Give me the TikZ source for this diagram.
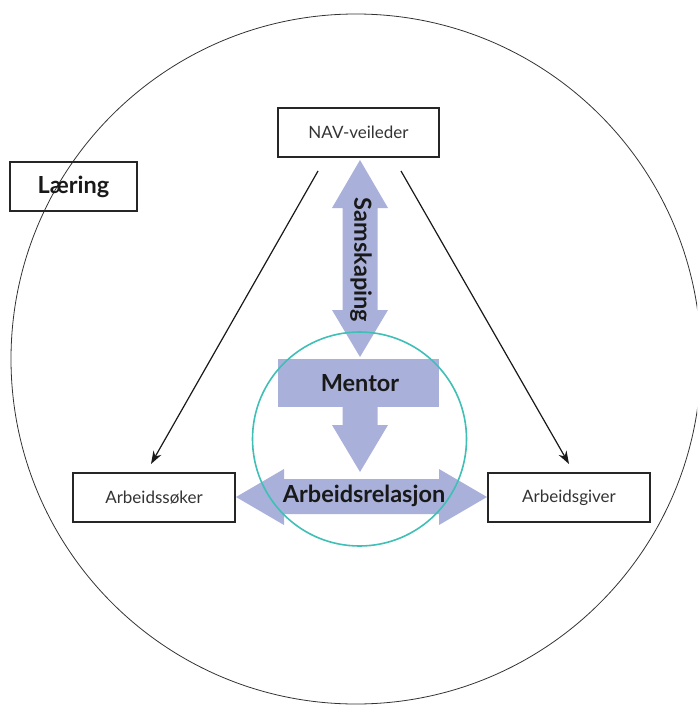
\documentclass[tikz,border=0pt]{standalone}
\usepackage{fontspec}
\setmainfont{Lato}
\usetikzlibrary{arrows.meta}
\definecolor{arrowfill}{HTML}{A9B1DB}
\definecolor{teal2}{HTML}{3FBFB5}
\tikzset{
  box/.style={draw=black!85, line width=1.1pt, minimum width=161pt, minimum height=49pt, inner sep=0pt, text=black!80, font=\fontsize{17}{19}\selectfont},
  bigtext/.style={font=\bfseries\fontsize{23.5}{26}\selectfont, text=black!90, inner sep=0pt},
  conn/.style={line width=1.2pt, black!90, -{Stealth[length=13pt,width=9pt]}},
  fatarrow/.style={fill=arrowfill, draw=none}
}
\begin{document}
\begin{tikzpicture}[x=1pt,y=-1pt]
\useasboundingbox (0,0) rectangle (697,706);
\clip (0,0) rectangle (697,706);
% outer circle
\draw[line width=0.8pt, black!80] (356,359) circle (345);
% boxes
\node[box, minimum width=127pt, text=black!90] (laering) at (73.5,186.5) {\bfseries\fontsize{23.5}{26}\selectfont Læring};
\node[box] (nav) at (358.5,132.5) {NAV-veileder};
\node[box, minimum width=162pt] (soker) at (154,497.5) {Arbeidssøker};
\node[box, minimum width=162pt] (giver) at (569,497.5) {Arbeidsgiver};
% connectors
\coordinate (l1s) at (318,171);
\coordinate (l1e) at (151,464);
\coordinate (r1s) at (401,171);
\coordinate (r1e) at (569,464);
\draw[conn] (l1s) -- (l1e);
\draw[conn] (r1s) -- (r1e);
% Samskaping double arrow
\fill[fatarrow] (360,160) -- (388,208) -- (377.5,208) -- (377.5,310) -- (388,310) -- (360,357) -- (332,310) -- (342.5,310) -- (342.5,208) -- (332,208) -- cycle;
% Mentor block
\fill[fatarrow] (278,359) rectangle (439,407);
% down arrow
\fill[fatarrow] (342.5,406) -- (377.5,406) -- (377.5,425) -- (388,425) -- (360,472) -- (332,425) -- (342.5,425) -- cycle;
% Arbeidsrelasjon double arrow
\fill[fatarrow] (236,497) -- (284,469) -- (284,479) -- (439,479) -- (439,469) -- (487,497) -- (439,525) -- (439,514) -- (284,514) -- (284,525) -- cycle;
% teal circle
\draw[teal2, line width=1.6pt] (359.5,439) circle (107);
% labels
\node[bigtext, rotate=-90] (samsk) at (361,260) {Samskaping};
\node[bigtext] (mentor) at (360,383) {Mentor};
\node[bigtext] (arbrel) at (364,496) {Arbeidsrelasjon};
\end{tikzpicture}
\end{document}
